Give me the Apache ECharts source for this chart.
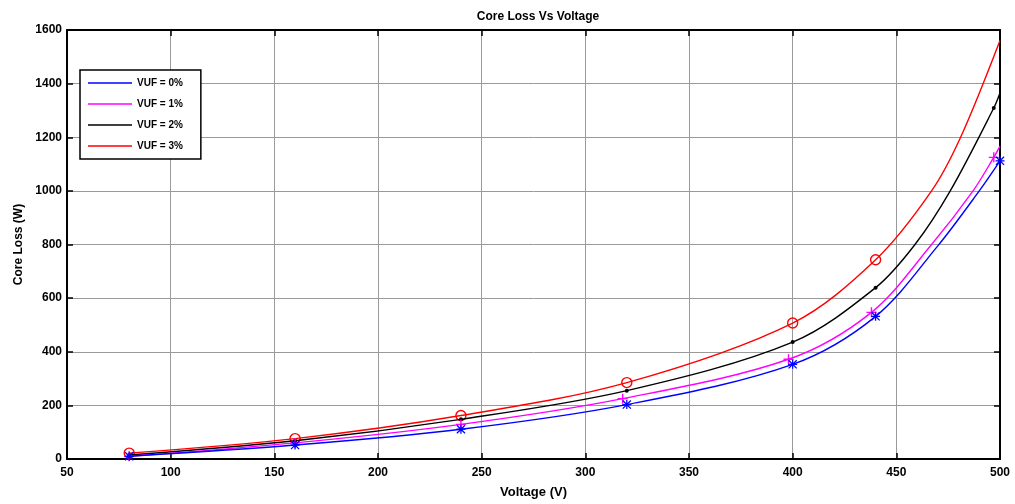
<!DOCTYPE html>
<html>
<head>
<meta charset="utf-8">
<script src="https://cdn.jsdelivr.net/npm/echarts@6/dist/echarts.min.js"></script>
<style>html,body{margin:0;padding:0;background:#fff;}#c{width:1015px;height:504px;}</style>
</head>
<body>
<div id="c"></div>
<script>
const seriesNames = ['VUF = 0%', 'VUF = 1%', 'VUF = 2%', 'VUF = 3%'];
const seriesColors = ['#0000ff', '#ff00ff', '#000000', '#ff0000'];
const xTicks = [50, 100, 150, 200, 250, 300, 350, 400, 450, 500];
const yTicks = [0, 200, 400, 600, 800, 1000, 1200, 1400, 1600];

// measured points (with markers)
const x0 = [80, 160, 240, 320, 400, 440, 500];
const y0 = [10, 52, 111, 203, 353, 532, 1112];
const x1 = [80, 160, 240, 318, 398, 438, 497];
const y1 = [10, 60, 129, 225, 372, 547, 1125];
const x2 = [80, 160, 240, 320, 400, 440, 497];
const y2 = [15, 68, 148, 255, 436, 639, 1309];
const x3 = [80, 160, 240, 320, 400, 440];
const y3 = [22, 76, 162, 285, 507, 743];

// points (no markers)
const cx0 = [470, 490];
const cy0 = [795, 1000];
const cx1 = [467, 487, 500];
const cy1 = [800, 1000, 1167];
const cx2 = [459, 476, 500];
const cy2 = [800, 1000, 1365];
const cx3 = [467, 481, 500];
const cy3 = [1000, 1200, 1561];

const STAR = 'path://M0,1L1,0L10,9L9,10Z M9,0L10,1L1,10L0,9Z M4.3,0H5.7V10H4.3Z M0,4.3H10V5.7H0Z';
const PLUS = 'path://M4.3,0H5.7V10H4.3Z M0,4.3H10V5.7H0Z';
const symbols = [STAR, PLUS, 'circle', 'circle'];
const symbolSizes = [9, 10, 4, 10];

function build(xs, ys, cxs, cys) {
  const pts = [];
  xs.forEach((x, i) => pts.push({ value: [x, ys[i]] }));
  cxs.forEach((x, i) => pts.push({ value: [x, cys[i]], symbol: 'none' }));
  pts.sort((a, b) => a.value[0] - b.value[0]);
  return pts;
}
const allData = [
  build(x0, y0, cx0, cy0),
  build(x1, y1, cx1, cy1),
  build(x2, y2, cx2, cy2),
  build(x3, y3, cx3, cy3)
];

const FONT = 'Liberation Sans';
const labelStyle = { fontFamily: FONT, fontWeight: 'bold', fontSize: 12, color: '#000' };

function frameAxis(extra) {
  return Object.assign({
    axisLine: { show: true, onZero: false, lineStyle: { color: '#000', width: 2 } },
    axisTick: { show: true, inside: true, length: 6, lineStyle: { color: '#000', width: 1.5 } },
    splitLine: { show: false },
    axisLabel: { show: false }
  }, extra);
}

const chart = echarts.init(document.getElementById('c'), null, { renderer: 'canvas' });
chart.setOption({
  animation: false,
  backgroundColor: '#fff',
  title: {
    text: 'Core Loss Vs Voltage',
    left: 533, textAlign: 'center', top: 6,
    textStyle: { fontFamily: FONT, fontWeight: 'bold', fontSize: 12, color: '#000' }
  },
  grid: { left: 67, right: 15, top: 30, bottom: 41, containLabel: false },
  legend: {
    orient: 'vertical', left: 80, top: 70,
    padding: [7, 18, 7, 8],
    itemGap: 9,
    itemWidth: 44, itemHeight: 1.5,
    icon: 'rect',
    backgroundColor: '#fff',
    borderColor: '#000', borderWidth: 1.5,
    textStyle: { fontFamily: FONT, fontWeight: 'bold', fontSize: 10, color: '#000', lineHeight: 12 },
    data: seriesNames.map((n, i) => ({ name: n, itemStyle: { color: seriesColors[i], borderWidth: 0 } }))
  },
  xAxis: [
    frameAxis({
      type: 'value', position: 'bottom', min: xTicks[0], max: xTicks[xTicks.length - 1], interval: 50,
      axisLabel: Object.assign({ show: true, margin: 8, formatter: v => String(v) }, labelStyle),
      splitLine: { show: true, lineStyle: { color: '#9a9a9a', width: 1 } },
      name: 'Voltage (V)', nameLocation: 'middle', nameGap: 27,
      nameTextStyle: { fontFamily: FONT, fontWeight: 'bold', fontSize: 13, color: '#000' }
    }),
    frameAxis({ type: 'value', position: 'top', min: xTicks[0], max: xTicks[xTicks.length - 1], interval: 50 })
  ],
  yAxis: [
    frameAxis({
      type: 'value', position: 'left', min: yTicks[0], max: yTicks[yTicks.length - 1], interval: 200,
      axisLabel: Object.assign({ show: true, margin: 5, formatter: v => String(v) }, labelStyle),
      splitLine: { show: true, lineStyle: { color: '#9a9a9a', width: 1 } },
      name: 'Core Loss (W)', nameLocation: 'middle', nameGap: 41, nameRotate: 90,
      nameTextStyle: { fontFamily: FONT, fontWeight: 'bold', fontSize: 12, color: '#000' }
    }),
    frameAxis({ type: 'value', position: 'right', min: yTicks[0], max: yTicks[yTicks.length - 1], interval: 200 })
  ],
  series: seriesNames.map((name, i) => ({
    name: name,
    type: 'line',
    xAxisIndex: 0, yAxisIndex: 0,
    data: allData[i],
    smooth: 0.33,
    symbol: symbols[i],
    symbolSize: symbolSizes[i],
    showAllSymbol: true,
    lineStyle: { color: seriesColors[i], width: 1.4 },
    itemStyle: { color: i === 3 ? 'rgba(255,255,255,0)' : seriesColors[i], borderColor: seriesColors[i], borderWidth: i === 3 ? 1.4 : 0 },
    emphasis: { disabled: true },
    z: 10 - i
  }))
});
</script>
</body>
</html>
